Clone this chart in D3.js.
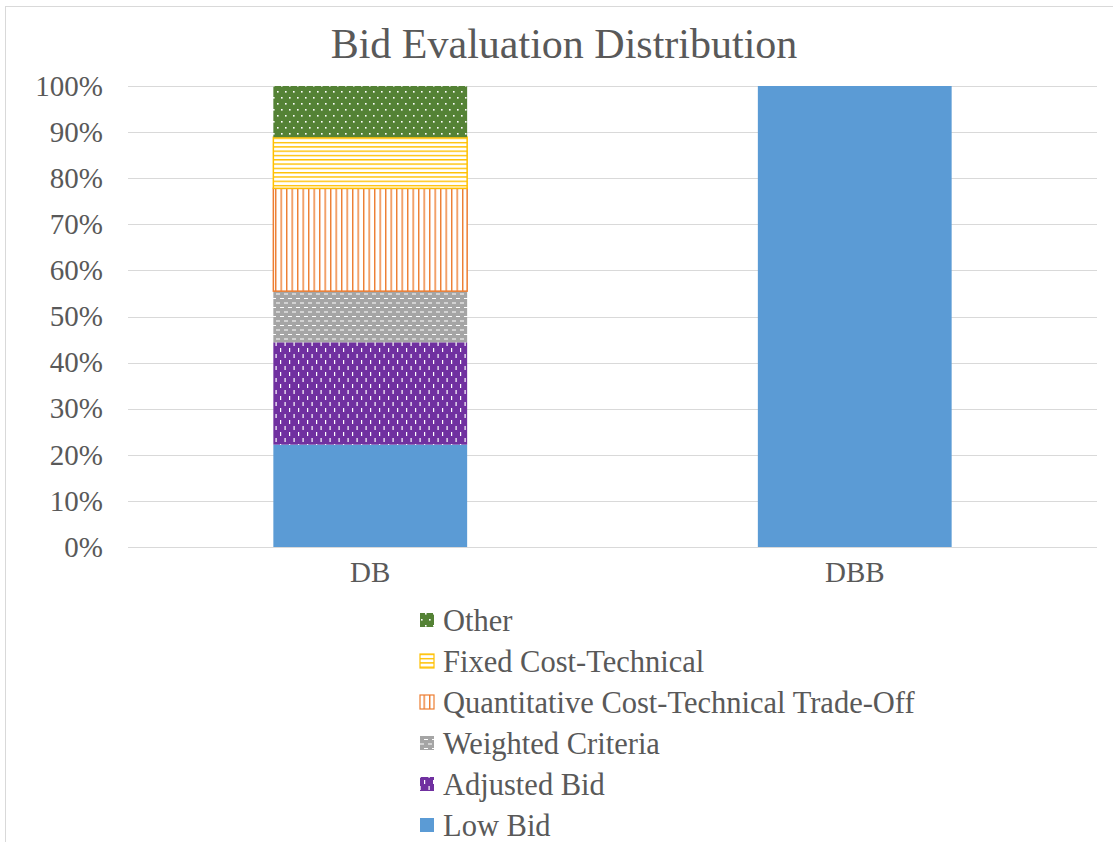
<!DOCTYPE html>
<html><head><meta charset="utf-8">
<script src="https://cdn.jsdelivr.net/npm/d3@7"></script>
<style>body{margin:0;background:#fff}svg{display:block}text{font-family:"Liberation Serif","Times New Roman",serif;fill:#595959}</style>
</head><body>
<script>
const categories = ["DB", "DBB"];
const seriesNames = ["Low Bid", "Adjusted Bid", "Weighted Criteria", "Quantitative Cost-Technical Trade-Off", "Fixed Cost-Technical", "Other"];
const lowBid = [22.2, 100];
const adjustedBid = [22.2, 0];
const weightedCriteria = [11.1, 0];
const quantitativeTradeOff = [22.3, 0];
const fixedCostTechnical = [11.1, 0];
const other = [11.1, 0];
const yTicks = [0,10,20,30,40,50,60,70,80,90,100];
const title = "Bid Evaluation Distribution";

const seriesValues = [lowBid, adjustedBid, weightedCriteria, quantitativeTradeOff, fixedCostTechnical, other];
const rows = categories.map((c,i)=>{const r={cat:c}; seriesNames.forEach((s,j)=>r[s]=seriesValues[j][i]); return r;});
const stack = d3.stack().keys(seriesNames)(rows);

const W=1113,H=842;
const svg=d3.select("body").append("svg").attr("width",W).attr("height",H);
svg.append("rect").attr("x",5.5).attr("y",6.5).attr("width",W).attr("height",H).attr("fill","none").attr("stroke","#d9d9d9");

const defs=svg.append("defs");
function pat(id,w,h,bg,draw){const p=defs.append("pattern").attr("id",id).attr("patternUnits","userSpaceOnUse").attr("width",w).attr("height",h);p.append("rect").attr("width",w).attr("height",h).attr("fill",bg);draw(p);}
pat("pOther",8,12,"#548235",p=>{p.append("rect").attr("x",1).attr("y",1).attr("width",1.6).attr("height",1.6).attr("fill","#fff");p.append("rect").attr("x",5).attr("y",7).attr("width",1.6).attr("height",1.6).attr("fill","#fff");});
pat("pFixed",10,4.3,"#fff",p=>{p.append("rect").attr("x",0).attr("y",0).attr("width",10).attr("height",1.4).attr("fill","#ffc000");});
pat("pQuant",5.5,10,"#fff",p=>{p.append("rect").attr("x",0).attr("y",0).attr("width",1.4).attr("height",10).attr("fill","#ed7d31");});
pat("pWeighted",8,9,"#a5a5a5",p=>{p.append("rect").attr("x",0).attr("y",1).attr("width",4).attr("height",1).attr("fill","#fff");p.append("rect").attr("x",4).attr("y",5.5).attr("width",4).attr("height",1).attr("fill","#fff");});
pat("pAdjusted",9,12,"#7030a0",p=>{p.append("rect").attr("x",1).attr("y",0).attr("width",1.2).attr("height",4).attr("fill","#fff");p.append("rect").attr("x",5.5).attr("y",6).attr("width",1.2).attr("height",4).attr("fill","#fff");});
const fills={"Low Bid":"#5b9bd5","Adjusted Bid":"url(#pAdjusted)","Weighted Criteria":"url(#pWeighted)","Quantitative Cost-Technical Trade-Off":"url(#pQuant)","Fixed Cost-Technical":"url(#pFixed)","Other":"url(#pOther)"};
const strokes={"Low Bid":"none","Adjusted Bid":"none","Weighted Criteria":"none","Quantitative Cost-Technical Trade-Off":"#ed7d31","Fixed Cost-Technical":"#ffc000","Other":"none"};

const x=d3.scaleBand().domain(categories).range([128,1097]).paddingInner(0.6).paddingOuter(0.3);
const y=d3.scaleLinear().domain([0,100]).range([547,86]);

svg.append("text").attr("x",564).attr("y",58).attr("text-anchor","middle").style("font-size","42px").text(title);

const grid=svg.append("g");
grid.selectAll("line").data(yTicks).join("line").attr("x1",128).attr("x2",1097).attr("y1",d=>Math.round(y(d))+0.5).attr("y2",d=>Math.round(y(d))+0.5).attr("stroke","#d9d9d9").attr("stroke-width",1);

const yAxis=svg.append("g").attr("transform","translate(128,0)").call(d3.axisLeft(y).tickValues(yTicks).tickFormat(d=>d+"%").tickSize(0).tickPadding(25));
yAxis.select(".domain").remove();
yAxis.selectAll("text").style("font-size","29px").style("font-family","Liberation Serif").attr("fill","#595959");

const xAxis=svg.append("g").attr("transform","translate(0,547)").call(d3.axisBottom(x).tickSize(0).tickPadding(14));
xAxis.select(".domain").remove();
xAxis.selectAll("text").style("font-size","29px").style("font-family","Liberation Serif").attr("fill","#595959").attr("dy","0.71em");

svg.append("g").selectAll("g").data(stack).join("g").each(function(s){
  d3.select(this).selectAll("rect").data(s.filter(d=>d[1]-d[0]>0)).join("rect")
   .attr("x",d=>x(d.data.cat)).attr("width",x.bandwidth())
   .attr("y",d=>y(d[1])).attr("height",d=>y(d[0])-y(d[1]))
   .attr("fill",fills[s.key]).attr("stroke",strokes[s.key]).attr("stroke-width",1.5);
});

const legOrder=seriesNames.slice().reverse();
const lg=svg.append("g");
legOrder.forEach((s,i)=>{
  const cy=620+i*41;
  lg.append("rect").attr("x",420).attr("y",cy-7).attr("width",14).attr("height",14).attr("fill",fills[s]).attr("stroke",strokes[s]==="none"?"none":strokes[s]).attr("stroke-width",1.2);
  lg.append("text").attr("x",443).attr("y",cy).attr("dy","0.35em").style("font-size","30.5px").text(s);
});
</script>
</body></html>
